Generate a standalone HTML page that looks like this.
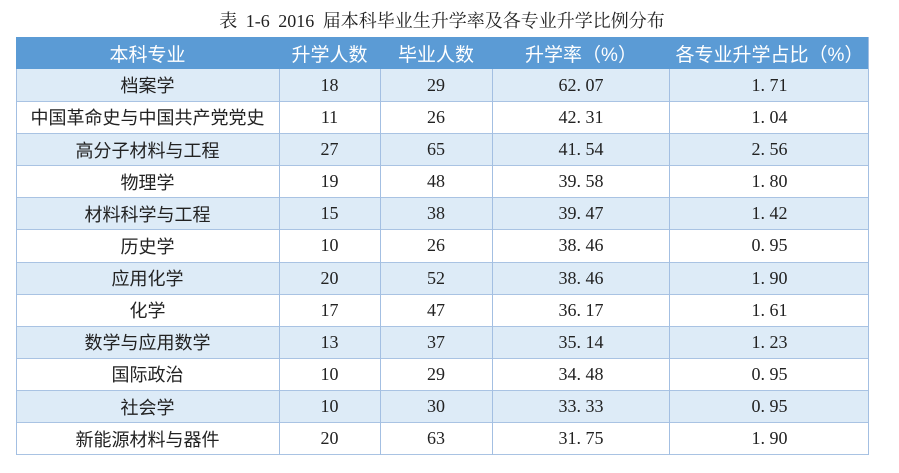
<!DOCTYPE html>
<html><head><meta charset="utf-8">
<style>
html,body{margin:0;padding:0;background:#fff;}
body{width:899px;height:473px;position:relative;overflow:hidden;}
.title{position:absolute;left:0;top:8px;width:884px;text-align:center;font-family:"Liberation Serif","Noto Serif CJK SC",serif;font-size:18px;line-height:26px;color:#222;word-spacing:4px;}
.hdr{position:absolute;left:16px;top:37px;width:853px;height:32px;background:#5b9bd5;}
.row{position:absolute;left:16px;width:853px;height:32px;}
.b{background:#ddebf7;}
.c{position:absolute;top:0;height:100%;display:flex;align-items:center;justify-content:center;color:#222;font-size:18px;white-space:nowrap;}
.zh{font-family:"Liberation Sans","Noto Sans CJK SC",sans-serif;}
.num{font-family:"Liberation Serif","Noto Serif CJK SC",serif;}
.hdr .c{color:#fff;font-family:"Liberation Sans","Noto Sans CJK SC",sans-serif;font-size:19px;}
.c1{left:0;width:263px;}
.c2{left:263px;width:101px;}
.c3{left:364px;width:112px;}
.c4{left:476px;width:178px;}
.c5{left:654px;width:199px;}
.vl{position:absolute;width:1px;background:#a3bfe2;}
.hl{position:absolute;left:16px;width:853px;height:1px;background:#a9c3e3;}
</style></head><body>
<div class="title">表 1-6 2016 届本科毕业生升学率及各专业升学比例分布</div>

<div class="hdr">
<div class="c c1">本科专业</div>
<div class="c c2">升学人数</div>
<div class="c c3">毕业人数</div>
<div class="c c4">升学率（%）</div>
<div class="c c5">各专业升学占比（%）</div>
</div>

<div class="row b" style="top:69.3px;height:32.1px"><div class="c c1 zh">档案学</div><div class="c c2 num">18</div><div class="c c3 num">29</div><div class="c c4 num">62. 07</div><div class="c c5 num">1. 71</div></div>
<div class="row" style="top:101.4px;height:32.1px"><div class="c c1 zh">中国革命史与中国共产党党史</div><div class="c c2 num">11</div><div class="c c3 num">26</div><div class="c c4 num">42. 31</div><div class="c c5 num">1. 04</div></div>
<div class="row b" style="top:133.5px;height:32.1px"><div class="c c1 zh">高分子材料与工程</div><div class="c c2 num">27</div><div class="c c3 num">65</div><div class="c c4 num">41. 54</div><div class="c c5 num">2. 56</div></div>
<div class="row" style="top:165.7px;height:32.1px"><div class="c c1 zh">物理学</div><div class="c c2 num">19</div><div class="c c3 num">48</div><div class="c c4 num">39. 58</div><div class="c c5 num">1. 80</div></div>
<div class="row b" style="top:197.8px;height:32.1px"><div class="c c1 zh">材料科学与工程</div><div class="c c2 num">15</div><div class="c c3 num">38</div><div class="c c4 num">39. 47</div><div class="c c5 num">1. 42</div></div>
<div class="row" style="top:229.9px;height:32.1px"><div class="c c1 zh">历史学</div><div class="c c2 num">10</div><div class="c c3 num">26</div><div class="c c4 num">38. 46</div><div class="c c5 num">0. 95</div></div>
<div class="row b" style="top:262.0px;height:32.1px"><div class="c c1 zh">应用化学</div><div class="c c2 num">20</div><div class="c c3 num">52</div><div class="c c4 num">38. 46</div><div class="c c5 num">1. 90</div></div>
<div class="row" style="top:294.1px;height:32.1px"><div class="c c1 zh">化学</div><div class="c c2 num">17</div><div class="c c3 num">47</div><div class="c c4 num">36. 17</div><div class="c c5 num">1. 61</div></div>
<div class="row b" style="top:326.3px;height:32.1px"><div class="c c1 zh">数学与应用数学</div><div class="c c2 num">13</div><div class="c c3 num">37</div><div class="c c4 num">35. 14</div><div class="c c5 num">1. 23</div></div>
<div class="row" style="top:358.4px;height:32.1px"><div class="c c1 zh">国际政治</div><div class="c c2 num">10</div><div class="c c3 num">29</div><div class="c c4 num">34. 48</div><div class="c c5 num">0. 95</div></div>
<div class="row b" style="top:390.5px;height:32.1px"><div class="c c1 zh">社会学</div><div class="c c2 num">10</div><div class="c c3 num">30</div><div class="c c4 num">33. 33</div><div class="c c5 num">0. 95</div></div>
<div class="row" style="top:422.6px;height:32.1px"><div class="c c1 zh">新能源材料与器件</div><div class="c c2 num">20</div><div class="c c3 num">63</div><div class="c c4 num">31. 75</div><div class="c c5 num">1. 90</div></div>

<!-- horizontal lines -->
<div class="hl" style="top:101px"></div>
<div class="hl" style="top:133px"></div>
<div class="hl" style="top:165px"></div>
<div class="hl" style="top:197px"></div>
<div class="hl" style="top:229px"></div>
<div class="hl" style="top:262px"></div>
<div class="hl" style="top:294px"></div>
<div class="hl" style="top:326px"></div>
<div class="hl" style="top:358px"></div>
<div class="hl" style="top:390px"></div>
<div class="hl" style="top:422px"></div>
<div class="hl" style="top:454px"></div>

<!-- vertical lines -->
<div class="vl" style="left:16px;top:69px;height:386px"></div>
<div class="vl" style="left:279px;top:69px;height:386px"></div>
<div class="vl" style="left:380px;top:69px;height:386px"></div>
<div class="vl" style="left:492px;top:69px;height:386px"></div>
<div class="vl" style="left:669px;top:69px;height:386px"></div>
<div class="vl" style="left:868px;top:37px;height:418px"></div>
</body></html>
